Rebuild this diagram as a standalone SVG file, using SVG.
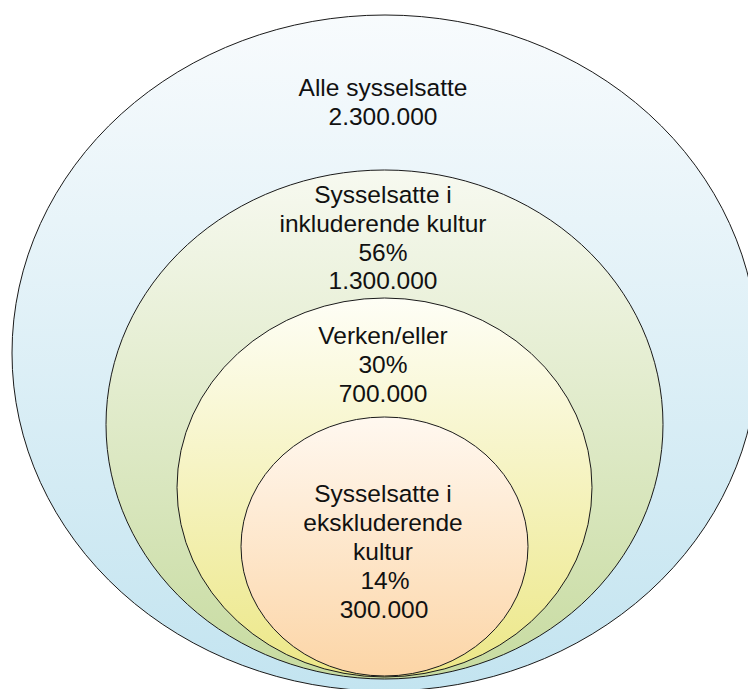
<svg xmlns="http://www.w3.org/2000/svg" width="748" height="689" viewBox="0 0 748 689">
<style>
.ring{stroke:#1a1a1a;stroke-width:1}
.t{font-family:"Liberation Sans",Arial,sans-serif;font-size:24.5px;fill:#111;text-anchor:middle}
</style>
<defs>
<linearGradient id="gBlue" x1="0" y1="0" x2="0" y2="1">
<stop offset="0" stop-color="#f8fbfd"/>
<stop offset="1" stop-color="#c3e4f0"/>
</linearGradient>
<linearGradient id="gGreen" x1="0" y1="0" x2="0" y2="1">
<stop offset="0" stop-color="#f7f9f0"/>
<stop offset="1" stop-color="#c7dba0"/>
</linearGradient>
<linearGradient id="gYellow" x1="0" y1="0" x2="0" y2="1">
<stop offset="0" stop-color="#fefef6"/>
<stop offset="1" stop-color="#ece786"/>
</linearGradient>
<linearGradient id="gPeach" x1="0" y1="0" x2="0" y2="1">
<stop offset="0" stop-color="#fff8f0"/>
<stop offset="1" stop-color="#fcd5a6"/>
</linearGradient>
</defs>
<rect width="748" height="689" fill="#ffffff"/>
<g id="alle">
<ellipse class="ring" cx="385" cy="353" rx="373" ry="338" fill="url(#gBlue)"/>
<text class="t" x="383" y="96">Alle sysselsatte</text>
<text class="t" x="383" y="125">2.300.000</text>
</g>
<g id="inkluderende">
<ellipse class="ring" cx="384.5" cy="424.5" rx="278.5" ry="254.5" fill="url(#gGreen)"/>
<text class="t" x="383" y="203">Sysselsatte i</text>
<text class="t" x="383" y="232">inkluderende kultur</text>
<text class="t" x="383" y="260.5">56%</text>
<text class="t" x="383" y="289">1.300.000</text>
</g>
<g id="verken">
<ellipse class="ring" cx="384.5" cy="487.5" rx="207.5" ry="189.5" fill="url(#gYellow)"/>
<text class="t" x="383" y="344">Verken/eller</text>
<text class="t" x="383" y="373">30%</text>
<text class="t" x="383" y="402">700.000</text>
</g>
<g id="ekskluderende">
<ellipse class="ring" cx="384.5" cy="546.5" rx="143.5" ry="129.5" fill="url(#gPeach)"/>
<text class="t" x="383" y="502">Sysselsatte i</text>
<text class="t" x="383" y="531">ekskluderende</text>
<text class="t" x="383" y="560">kultur</text>
<text class="t" x="385" y="589">14%</text>
<text class="t" x="384" y="618">300.000</text>
</g>
<g id="connectors"/>
</svg>
